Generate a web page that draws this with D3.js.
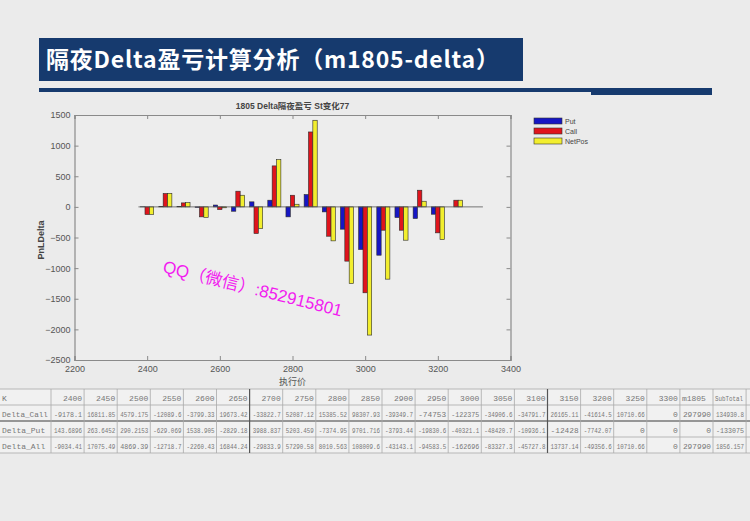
<!DOCTYPE html>
<html><head><meta charset="utf-8">
<script src="https://cdn.jsdelivr.net/npm/d3@7"></script>
<style>
html,body{margin:0;padding:0;background:#ebebeb;}
svg{display:block;}
</style></head>
<body>
<svg id="c" width="750" height="521"></svg>
<script>
// ---------- data ----------
const strikes = [2400,2450,2500,2550,2600,2650,2700,2750,2800,2850,2900,2950,3000,3050,3100,3150,3200,3250,3300];
const putVals = [2,3,4,-8,30,-71,82,109,-163,201,-82,-364,-696,-789,-174,-190,-120,0,0];
const callVals = [-125,218,65,-163,-45,256,-435,669,190,1223,-479,-886,-1403,-381,-381,272,-424,109,0];
const netVals = [-123,221,69,-171,-15,190,-354,772,43,1414,-555,-1251,-2093,-1180,-544,92,-533,109,0];
const seriesNames = ["Put","Call","NetPos"];
const xTickVals = [2200,2400,2600,2800,3000,3200,3400];
const yTickVals = [-2500,-2000,-1500,-1000,-500,0,500,1000,1500];

const tableHeader = ["K","2400","2450","2500","2550","2600","2650","2700","2750","2800","2850","2900","2950","3000","3050","3100","3150","3200","3250","3300","m1805","SubTotal"];
const rowCall = ["Delta_Call","-9178.1","16811.85","4579.175","-12089.6","-3799.33","19673.42","-33822.7","52087.12","15385.52","98307.93","-39349.7","-74753","-122375","-34906.6","-34791.7","26165.11","-41614.5","10710.66","0","297990","134930.8"];
const rowPut = ["Delta_Put","143.6896","263.6452","290.2153","-629.069","1538.905","-2829.18","3988.837","5203.459","-7374.95","9701.716","-3793.44","-19830.6","-40321.1","-48420.7","-10936.1","-12428","-7742.07","0","0","0","-133075"];
const rowAll = ["Delta_All","-9034.41","17075.49","4869.39","-12718.7","-2260.43","16844.24","-29833.9","57290.58","8010.563","108009.6","-43143.1","-94583.5","-162696","-83327.3","-45727.8","13737.14","-49356.6","10710.66","0","297990","1856.157"];

// ---------- drawing ----------
const svg = d3.select("#c");
const colors = ["#1616c4","#e0141c","#f2ee2e"];

svg.append("rect").attr("x",0).attr("y",0).attr("width",750).attr("height",521).attr("fill","#ebebeb");
svg.append("rect").attr("x",39).attr("y",38).attr("width",484).attr("height",43).attr("fill","#163a6e");
svg.append("text").attr("x",46).attr("y",68)
  .attr("font-family","'Noto Sans CJK SC','Noto Sans',sans-serif").attr("font-weight","bold")
  .attr("font-size",23).attr("letter-spacing",0.8).attr("fill","#ffffff").text("隔夜Delta盈亏计算分析（m1805-delta）");
svg.append("rect").attr("x",39).attr("y",88).attr("width",552).attr("height",4).attr("fill","#163a6e");
svg.append("rect").attr("x",591).attr("y",88).attr("width",121).attr("height",7).attr("fill","#163a6e");

// chart
const L=74.5, R=510.5, T=115, B=360;
const x = d3.scaleLinear().domain([2200,3400]).range([L,R]);
const y = d3.scaleLinear().domain([-2500,1500]).range([B,T]);
const bw = x(2212)-x(2200);

svg.append("rect").attr("x",L).attr("y",T).attr("width",R-L).attr("height",B-T).attr("fill","#ededed");

const allSeries = [putVals,callVals,netVals];
allSeries.forEach((vals,si)=>{
  svg.append("g").selectAll("rect").data(strikes).join("rect")
    .attr("x",(k)=>x(k)+(si-1)*bw-bw/2)
    .attr("y",(k,i)=>Math.min(y(vals[i]),y(0)))
    .attr("width",bw)
    .attr("height",(k,i)=>Math.abs(y(vals[i])-y(0)))
    .attr("fill",colors[si]).attr("stroke","#2a2a2a").attr("stroke-width",0.6);
});
svg.append("line").attr("x1",x(2400)-2*bw).attr("x2",x(3300)+2*bw).attr("y1",y(0)).attr("y2",y(0))
  .attr("stroke","#555").attr("stroke-width",0.8);

const axisColor="#8a8a8a";
const fontAx="'Liberation Sans',Arial,sans-serif";
const gx = svg.append("g").attr("transform",`translate(0,${B})`)
  .call(d3.axisBottom(x).tickValues(xTickVals).tickSize(-4).tickPadding(6).tickFormat(d3.format("d")));
const gxt = svg.append("g").attr("transform",`translate(0,${T})`)
  .call(d3.axisTop(x).tickValues(xTickVals).tickSize(-4).tickFormat(""));
const gy = svg.append("g").attr("transform",`translate(${L},0)`)
  .call(d3.axisLeft(y).tickValues(yTickVals).tickSize(-4).tickPadding(4).tickFormat(d3.format("d")));
const gyr = svg.append("g").attr("transform",`translate(${R},0)`)
  .call(d3.axisRight(y).tickValues(yTickVals).tickSize(-4).tickFormat(""));
[gx,gxt,gy,gyr].forEach(g=>{
  g.selectAll("path").attr("stroke",axisColor).attr("stroke-width",1.2);
  g.selectAll("line").attr("stroke",axisColor);
  g.selectAll("text").attr("fill","#555").attr("font-family",fontAx).attr("font-size",9);
});

svg.append("text").attr("x",(L+R)/2).attr("y",109).attr("text-anchor","middle")
  .attr("font-family","'Liberation Sans','Noto Sans CJK SC',sans-serif").attr("font-weight","bold")
  .attr("font-size",8.5).attr("fill","#444").text("1805 Delta隔夜盈亏 St变化77");
svg.append("text").attr("transform","translate(44,240) rotate(-90)").attr("text-anchor","middle")
  .attr("font-family",fontAx).attr("font-weight","bold").attr("font-size",9).attr("fill","#444").text("PnLDelta");
svg.append("text").attr("x",(L+R)/2).attr("y",385).attr("text-anchor","middle")
  .attr("font-family","'Noto Sans CJK SC',sans-serif").attr("font-size",9).attr("fill","#555").text("执行价");

seriesNames.forEach((n,i)=>{
  const ly = 118 + i*10;
  svg.append("rect").attr("x",534).attr("y",ly).attr("width",28).attr("height",6)
    .attr("fill",colors[i]).attr("stroke","#333").attr("stroke-width",0.6);
  svg.append("text").attr("x",565).attr("y",ly+6).attr("font-family",fontAx).attr("font-size",7)
    .attr("fill","#444").text(n);
});

svg.append("text").attr("transform","translate(162,272) rotate(14)")
  .attr("font-family","'Liberation Sans','Noto Sans CJK SC',sans-serif").attr("font-size",17)
  .attr("fill","#f21cf0").text("QQ（微信）:852915801");

// table
const tY0=389, rowH=16, firstW=51, colW=33.1;
const nCols = tableHeader.length;
const colEdges=[0];
for(let i=1;i<=nCols;i++) colEdges.push(firstW + (i-1)*colW);
const rows=[tableHeader,rowCall,rowPut,rowAll];
const tg = svg.append("g");
tg.append("rect").attr("x",0).attr("y",tY0).attr("width",750).attr("height",rowH*4).attr("fill","#f1f1f1");
rows.forEach((r,ri)=>{
  r.forEach((cell,ci)=>{
    const left = ci===0 || (ri===0 && (cell==="m1805"||cell==="SubTotal"));
    const cellR = Math.min(colEdges[ci+1], 749);
    const ax = left ? colEdges[ci]+2 : cellR-2;
    const ay = tY0 + ri*rowH + 11.5;
    const t = tg.append("text")
      .attr("x", 0).attr("y", 0)
      .attr("text-anchor", left ? "start":"end")
      .attr("font-family","'Liberation Mono','DejaVu Sans Mono',monospace")
      .attr("font-size",8).attr("fill","#777")
      .text(cell);
    const avail = cellR-colEdges[ci]-5;
    const w = t.node().getComputedTextLength();
    const s = w>avail ? avail/w : 1;
    t.attr("transform",`translate(${ax},${ay}) scale(${s},1)`);
  });
});
for(let i=0;i<=4;i++){
  tg.append("line").attr("x1",0).attr("x2",750).attr("y1",tY0+i*rowH).attr("y2",tY0+i*rowH)
    .attr("stroke", i===2 ? "#777" : "#aaa").attr("stroke-width", i===2 ? 1.6 : 0.8);
}
colEdges.slice(1).forEach((cx,i)=>{
  const thick = (i===6 || i===15);
  tg.append("line").attr("x1",cx).attr("x2",cx).attr("y1",tY0).attr("y2",tY0+rowH*4)
    .attr("stroke", thick ? "#555":"#aaa").attr("stroke-width", thick?1.2:0.8);
});
</script>
</body></html>
